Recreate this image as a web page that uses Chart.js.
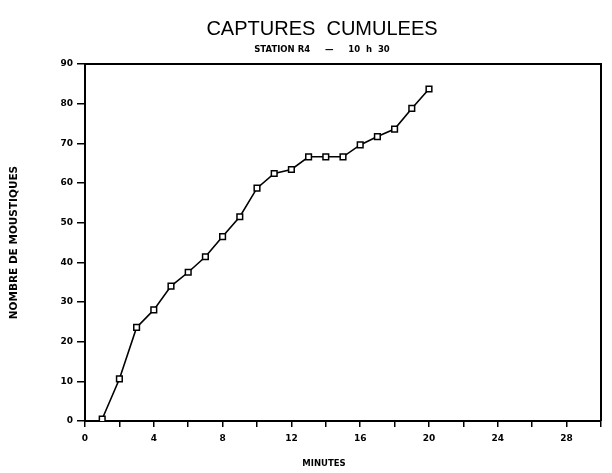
<!DOCTYPE html>
<html>
<head>
<meta charset="utf-8">
<script src="https://cdn.jsdelivr.net/npm/chart.js@4.4.1/dist/chart.umd.min.js"></script>
<style>
  html, body { margin: 0; padding: 0; background: #fff; }
  #wrap { width: 612px; height: 473px; }
</style>
</head>
<body>
<div id="wrap"><canvas id="capturesChart" width="612" height="473"></canvas></div>
<script>
// minutes and cumulative mosquito captures
const minutes = [1, 2, 3, 4, 5, 6, 7, 8, 9, 10, 11, 12, 13, 14, 15, 16, 17, 18, 19, 20];
const captures = [0.5, 10.6, 23.6, 28, 34, 37.5, 41.4, 46.5, 51.5, 58.7, 62.4, 63.4, 66.6, 66.6, 66.6, 69.6, 71.7, 73.6, 78.8, 83.7];
const xLabelTicks = [0, 4, 8, 12, 16, 20, 24, 28];

const titleText = 'CAPTURES  CUMULEES';
const subtitleText = 'STATION R4     \u2014     10  h  30';
const xTitleText = 'MINUTES';

const points = minutes.map((m, i) => ({ x: m, y: captures[i] }));

// frame top/right sides, and the titles, which sit a bit left of the plot centre
const framePlugin = {
    id: 'frame',
    afterDraw(chart) {
        const a = chart.chartArea;
        const c = chart.ctx;
        c.save();
        c.strokeStyle = '#000';
        c.lineWidth = 2;
        c.beginPath();
        c.moveTo(a.left, a.top);
        c.lineTo(a.right, a.top);
        c.lineTo(a.right, a.bottom);
        c.stroke();

        c.fillStyle = '#000';
        c.textAlign = 'center';
        c.textBaseline = 'middle';
        c.font = 'normal 20px "Liberation Sans"';
        c.fillText(titleText, 322, 29);
        c.font = 'bold 8.5px "DejaVu Sans"';
        c.fillText(subtitleText, 322, 49.5);
        c.fillText(xTitleText, 324, 464);
        c.restore();
    }
};

const tickFont = { family: 'DejaVu Sans', size: 9, weight: 'bold' };

const ctx = document.getElementById('capturesChart').getContext('2d');
const capturesChart = new Chart(ctx, {
    type: 'line',
    data: {
        datasets: [{
            data: points,
            borderColor: '#000',
            borderWidth: 1.6,
            fill: false,
            tension: 0,
            pointStyle: 'rect',
            pointRadius: 4,
            pointBackgroundColor: '#fff',
            pointBorderColor: '#000',
            pointBorderWidth: 1.5
        }]
    },
    options: {
        responsive: false,
        animation: false,
        layout: { padding: { left: 8, right: 11, top: 64, bottom: 0 } },
        plugins: {
            legend: { display: false },
            tooltip: { enabled: false },
            title: { display: false }
        },
        scales: {
            x: {
                type: 'linear',
                min: 0,
                max: 30,
                afterFit(scale) { scale.height = 52; },
                border: { display: true, color: '#000', width: 2 },
                grid: { drawOnChartArea: false, drawTicks: true, tickLength: 6, color: '#000', lineWidth: 1.5 },
                ticks: {
                    stepSize: 2,
                    color: '#000',
                    font: tickFont,
                    padding: 6,
                    maxRotation: 0,
                    autoSkip: false,
                    callback: v => xLabelTicks.includes(v) ? String(v) : ''
                }
            },
            y: {
                min: 0,
                max: 90,
                afterFit(scale) { scale.width = 77; },
                title: {
                    display: true,
                    text: 'NOMBRE DE MOUSTIQUES',
                    color: '#000',
                    font: { family: 'DejaVu Sans', size: 10.5, weight: 'bold' },
                    padding: 0
                },
                border: { display: true, color: '#000', width: 2 },
                grid: { drawOnChartArea: false, drawTicks: true, tickLength: 8, color: '#000', lineWidth: 1.5 },
                ticks: {
                    stepSize: 10,
                    color: '#000',
                    font: tickFont,
                    padding: 4
                }
            }
        }
    },
    plugins: [framePlugin]
});
</script>
</body>
</html>
